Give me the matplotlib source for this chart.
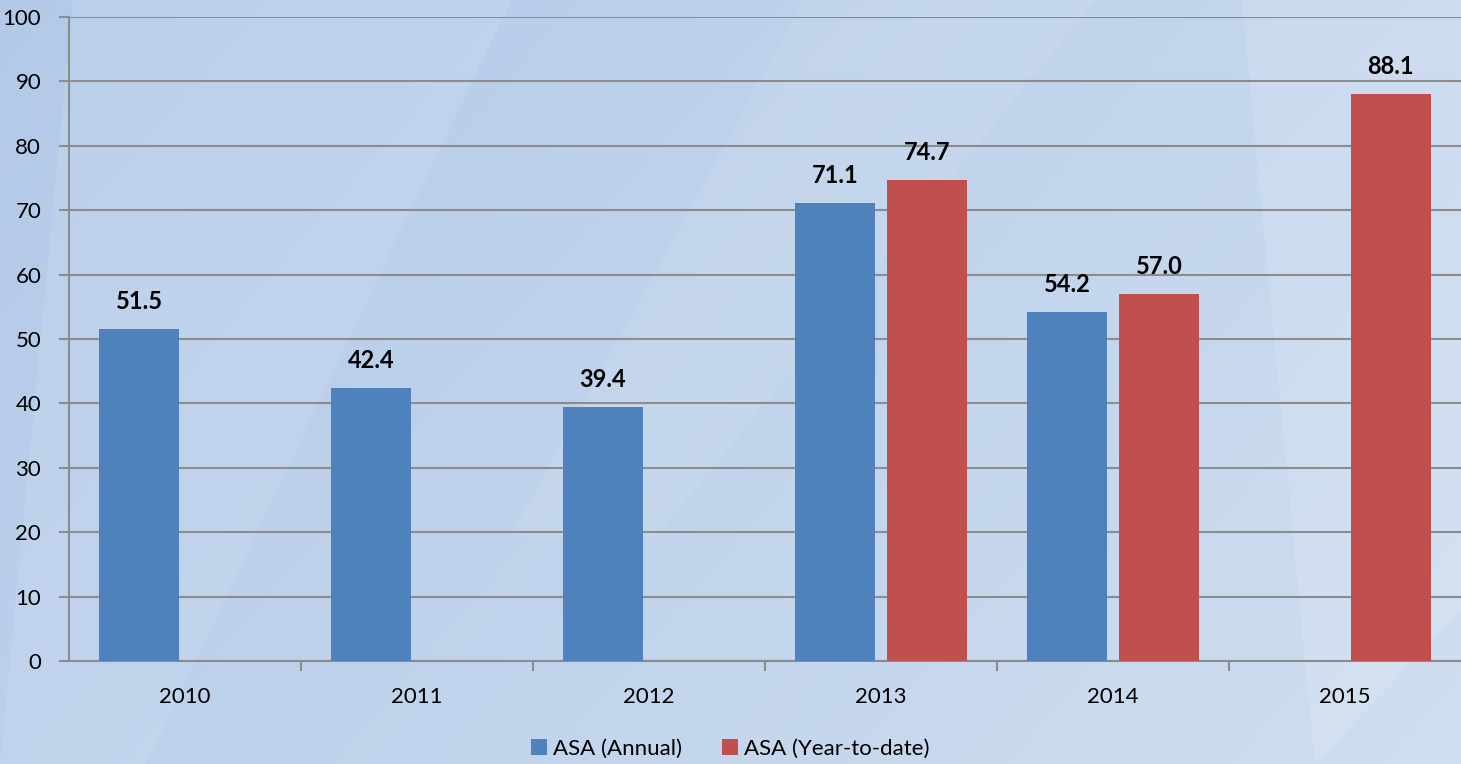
import numpy as np
import matplotlib.pyplot as plt
from matplotlib.patches import Polygon

years = ["2010", "2011", "2012", "2013", "2014", "2015"]
annual = [51.5, 42.4, 39.4, 71.1, 54.2, np.nan]
ytd = [np.nan, np.nan, np.nan, 74.7, 57.0, 88.1]

plt.rcParams['font.family'] = ['Lato', 'DejaVu Sans']

fig = plt.figure(figsize=(14.61, 7.64), dpi=100)

# fondo degradado azul claro
bg = fig.add_axes([0, 0, 1, 1], zorder=-10)
gx = np.linspace(0, 1, 300)
gy = np.linspace(0, 1, 200)
X, Y = np.meshgrid(gx, gy)
t = np.clip(0.55 * X + 0.25 * (1 - Y), 0, 1)
c0 = np.array([0.70, 0.79, 0.91])
c1 = np.array([0.84, 0.89, 0.95])
img = c0[None, None, :] * (1 - t[..., None]) + c1[None, None, :] * t[..., None]
bg.imshow(img, extent=[0, 1, 0, 1], origin='lower', aspect='auto')
# vetas diagonales suaves
bg.add_patch(Polygon([[0.05, 1], [0.35, 1], [0.10, 0], [0.0, 0]], closed=True,
                     color='white', alpha=0.10, lw=0))
bg.add_patch(Polygon([[0.55, 1], [0.75, 1], [0.45, 0.3], [0.35, 0.3]], closed=True,
                     color='white', alpha=0.08, lw=0))
bg.add_patch(Polygon([[0.85, 1], [1.0, 1], [1.0, 0.2], [0.9, 0.0]], closed=True,
                     color='white', alpha=0.12, lw=0))
bg.set_xlim(0, 1)
bg.set_ylim(0, 1)
bg.axis('off')

ax = fig.add_axes([69 / 1461, 1 - 661 / 764, (1461 - 69) / 1461, (661 - 17) / 764])
ax.patch.set_alpha(0)

x = np.arange(len(years))
w = 0.345
off = 0.198
blue = '#4F81BD'
red = '#C0504D'
b1 = ax.bar(x - off, annual, w, color=blue, label='ASA (Annual)', zorder=3)
b2 = ax.bar(x + off, ytd, w, color=red, label='ASA (Year-to-date)', zorder=3)

for xi, v in zip(x, annual):
    if not np.isnan(v):
        ax.text(xi - off, v + 2.5, f"{v:.1f}", ha='center', va='bottom',
                fontsize=17, fontweight='bold')
for xi, v in zip(x, ytd):
    if not np.isnan(v):
        ax.text(xi + off, v + 2.5, f"{v:.1f}", ha='center', va='bottom',
                fontsize=17, fontweight='bold')

ax.set_xlim(-0.5, len(years) - 0.5)
ax.set_ylim(0, 100)
ax.set_yticks(np.arange(0, 101, 10))
ax.yaxis.grid(True, color='#8c8c8c', lw=1.5, zorder=0)
ax.set_axisbelow(True)

ax.set_xticks(x)
ax.set_xticklabels(years)
ax.set_xticks(np.arange(0.5, len(years) - 0.5, 1), minor=True)
ax.tick_params(axis='x', which='major', length=0, pad=19, labelsize=16)
ax.tick_params(axis='x', which='minor', length=7, width=1.5, color='#8c8c8c')
ax.tick_params(axis='y', length=7, width=1.5, color='#8c8c8c', labelsize=16, pad=13)

for s in ['top', 'right']:
    ax.spines[s].set_visible(False)
for s in ['left', 'bottom']:
    ax.spines[s].set_color('#8c8c8c')
    ax.spines[s].set_linewidth(1.5)

fig.legend(handles=[b1, b2], loc='center', bbox_to_anchor=(0.5, 1 - 749 / 764),
           ncol=2, frameon=False, fontsize=16, handlelength=0.7, handleheight=0.7,
           handletextpad=0.3, columnspacing=1.8)

fig.savefig('out.png', dpi=100)
